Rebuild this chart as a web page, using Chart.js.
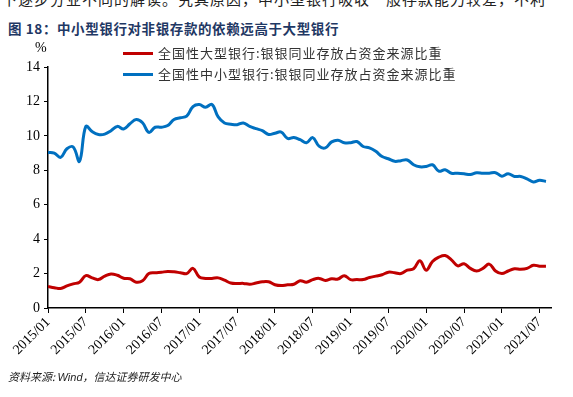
<!DOCTYPE html>
<html>
<head>
<meta charset="utf-8">
<script src="https://cdn.jsdelivr.net/npm/chart.js@4"></script>
<style>
  body { margin: 0; background: #fff; width: 573px; height: 397px; overflow: hidden; position: relative; font-family: "Noto Sans CJK SC", sans-serif; }
  #wrap { position: absolute; left: 0; top: 0; width: 573px; height: 397px; }
  .topline { position: absolute; left: 2px; top: -12px; font-size: 15px; color: #222; white-space: nowrap; letter-spacing: 1px; }
  .title { position: absolute; left: 8px; top: 18px; font-size: 13.5px; font-weight: bold; color: #1f3864; white-space: nowrap; letter-spacing: 0.6px; }
  .unit { position: absolute; left: 35px; top: 40px; font-family: "Liberation Serif", serif; font-size: 14px; }
  .leg { position: absolute; left: 123px; font-size: 13px; color: #333; white-space: nowrap; letter-spacing: 1px; }
  .leg i { display: inline-block; width: 30px; height: 3px; vertical-align: middle; margin-right: 5px; position: relative; top: -1px; }
  .src { position: absolute; left: 8px; top: 368px; font-size: 11px; font-style: italic; color: #222; white-space: nowrap; }
</style>
</head>
<body>
<div class="topline">下逐步分业不同的解读。究其原因，中小型银行吸收一般存款能力较差，不利</div>
<div class="title">图 18：中小型银行对非银存款的依赖远高于大型银行</div>
<div id="wrap"><canvas id="chart" width="573" height="397"></canvas></div>
<div class="unit">%</div>
<div class="leg" style="top:43px"><i style="background:#c00000"></i>全国性大型银行:银银同业存放占资金来源比重</div>
<div class="leg" style="top:64px"><i style="background:#0070c0"></i>全国性中小型银行:银银同业存放占资金来源比重</div>
<div class="src">资料来源: <span style="font-family:'Liberation Sans'">Wind</span>，信达证券研发中心</div>
<script>
// 月份 2015/01 - 2021/08
const months = [];
for (let y = 2015; y <= 2021; y++) {
    for (let m = 1; m <= 12; m++) {
        if (y === 2021 && m > 8) break;
        months.push(y + '/' + String(m).padStart(2, '0'));
    }
}

// 全国性大型银行
const largeBanks = [
    1.25, 1.18, 1.13, 1.28, 1.40, 1.50, 1.88, 1.75, 1.65, 1.85,
    1.98, 1.90, 1.73, 1.70, 1.50, 1.58, 2.00, 2.05, 2.08, 2.12,
    2.10, 2.05, 2.00, 2.30, 1.80, 1.72, 1.72, 1.75, 1.62, 1.45,
    1.42, 1.43, 1.38, 1.45, 1.52, 1.52, 1.35, 1.30, 1.35, 1.38,
    1.58, 1.50, 1.65, 1.72, 1.60, 1.70, 1.68, 1.88, 1.65, 1.65,
    1.65, 1.77, 1.85, 1.93, 2.08, 2.05, 2.00, 2.20, 2.28, 2.75,
    2.20, 2.70, 2.95, 3.05, 2.80, 2.45, 2.57, 2.30, 2.15, 2.30,
    2.55, 2.15, 2.00, 2.15, 2.28, 2.25, 2.30, 2.48, 2.43, 2.43
];

// 全国性中小型银行
const smallBanks = [
    9.04, 9.00, 8.75, 9.25, 9.35, 8.52, 10.55, 10.25, 10.08, 10.10,
    10.30, 10.55, 10.40, 10.70, 10.95, 10.76, 10.20, 10.50, 10.50, 10.60,
    10.95, 11.05, 11.15, 11.70, 11.82, 11.66, 11.83, 11.10, 10.75, 10.68,
    10.65, 10.75, 10.55, 10.42, 10.30, 10.08, 10.15, 10.22, 9.85, 9.90,
    9.78, 9.60, 9.90, 9.40, 9.30, 9.65, 9.75, 9.60, 9.60, 9.67,
    9.38, 9.30, 9.10, 8.80, 8.67, 8.52, 8.56, 8.60, 8.32, 8.20,
    8.22, 8.32, 7.95, 8.03, 7.83, 7.83, 7.80, 7.75, 7.86, 7.83,
    7.83, 7.86, 7.66, 7.80, 7.64, 7.64, 7.50, 7.32, 7.42, 7.35
];

const yTicks = [0, 2, 4, 6, 8, 10, 12, 14];

const toPoints = arr => arr.map((v, i) => ({ x: i, y: v }));

const ctx = document.getElementById('chart').getContext('2d');
new Chart(ctx, {
    type: 'line',
    data: {
        datasets: [{
            label: '全国性大型银行:银银同业存放占资金来源比重',
            data: toPoints(largeBanks),
            borderColor: '#c00000',
            borderWidth: 3,
            pointRadius: 0,
            tension: 0.4
        }, {
            label: '全国性中小型银行:银银同业存放占资金来源比重',
            data: toPoints(smallBanks),
            borderColor: '#0070c0',
            borderWidth: 3,
            pointRadius: 0,
            tension: 0.4
        }]
    },
    options: {
        responsive: false,
        animation: false,
        layout: { padding: { top: 67, left: 0, right: 22, bottom: 39 } },
        plugins: { legend: { display: false }, tooltip: { enabled: false } },
        scales: {
            x: {
                type: 'linear',
                min: 0,
                max: 79.8,
                afterFit: s => { s.height = 50; },
                afterBuildTicks: s => { s.ticks = months.map((m, i) => ({ value: i })).filter(t => t.value % 6 === 0); },
                grid: { drawOnChartArea: false, color: '#000', tickLength: 5, tickColor: '#000' },
                border: { color: '#000', width: 1.5 },
                ticks: {
                    callback: v => months[v],
                    maxRotation: 45,
                    minRotation: 45,
                    autoSkip: false,
                    padding: 1,
                    color: '#000',
                    font: { family: 'Liberation Serif', size: 14 }
                }
            },
            y: {
                min: 0,
                max: 14,
                afterFit: s => { s.width = 48; },
                afterBuildTicks: s => { s.ticks = yTicks.map(v => ({ value: v })); },
                grid: { drawOnChartArea: false, tickLength: 4, tickColor: '#000' },
                border: { color: '#000', width: 1.5 },
                ticks: {
                    padding: 4,
                    color: '#000',
                    font: { family: 'Liberation Serif', size: 14 }
                }
            }
        }
    }
});
</script>
</body>
</html>
